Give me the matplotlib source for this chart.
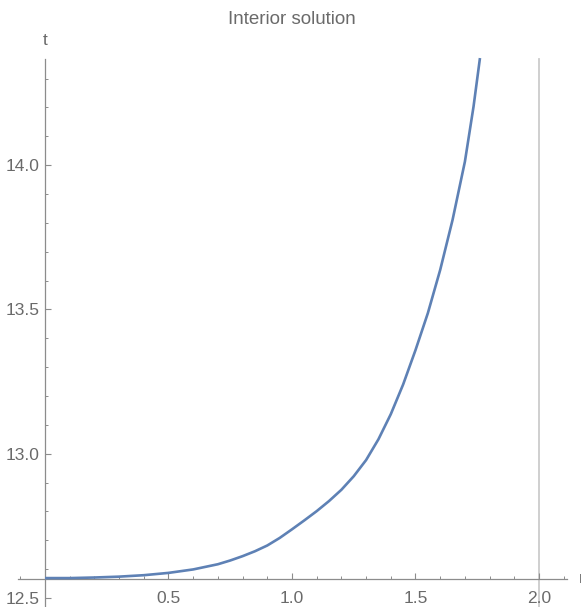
import matplotlib
matplotlib.use('Agg')
import matplotlib.pyplot as plt
import numpy as np
from matplotlib.ticker import FixedLocator, FormatStrFormatter

plt.rcParams['font.family'] = ['Liberation Sans', 'DejaVu Sans']

# curve
x_vals = [0.0, 0.1, 0.2, 0.3, 0.4, 0.5, 0.6, 0.7, 0.75, 0.8, 0.85, 0.9, 0.95,
          1.0, 1.05, 1.1, 1.15, 1.2, 1.25, 1.3, 1.35, 1.4, 1.45, 1.5, 1.55,
          1.6, 1.65, 1.7, 1.735, 1.761]
t_vals = [12.569, 12.569, 12.571, 12.574, 12.579, 12.587, 12.599, 12.617,
          12.630, 12.645, 12.662, 12.682, 12.708, 12.738, 12.769, 12.801,
          12.836, 12.875, 12.922, 12.978, 13.050, 13.137, 13.240, 13.359,
          13.487, 13.637, 13.810, 14.012, 14.203, 14.371]

x_major = [0.5, 1.0, 1.5, 2.0]
y_major = [12.5, 13.0, 13.5, 14.0]
boundary_x = 2.0
title = 'Interior solution'

gray_txt = '#6a6a6a'
gray_axis = '#8c8c8c'
blue = '#5e81b5'

fig = plt.figure(figsize=(5.81, 6.07), dpi=100)
ax = fig.add_axes([0, 0, 1, 1])
ax.patch.set_alpha(0)

# pixel mapping: x 0 -> 45px, 247 px per unit; y 12.5 -> 598px, 288.6 px per unit
ax.set_xlim(-45 / 247, (581 - 45) / 247)
ax.set_ylim(12.5 - 9 / 288.6, 12.5 + 598 / 288.6)

y_top = 14.368
x_axis_y = 12.566

ax.plot([boundary_x, boundary_x], [ax.get_ylim()[0], y_top], color='#cccccc', lw=1.3, zorder=1)
ax.plot(x_vals, t_vals, color=blue, lw=1.9, zorder=3, solid_capstyle='butt',
        solid_joinstyle='round')

for s in ['top', 'right']:
    ax.spines[s].set_visible(False)
ax.spines['left'].set_position(('data', 0))
ax.spines['bottom'].set_position(('data', x_axis_y))
ax.spines['left'].set_bounds(ax.get_ylim()[0], y_top)
ax.spines['bottom'].set_bounds(-0.109, 2.113)
for s in ['left', 'bottom']:
    ax.spines[s].set_color(gray_axis)
    ax.spines[s].set_linewidth(0.9)

x_minor = [v for v in np.round(np.arange(-0.1, 2.11, 0.1), 2) if v not in x_major and v != 0]
y_minor = [v for v in np.round(np.arange(12.6, 14.31, 0.1), 2) if v not in y_major]
ax.xaxis.set_major_locator(FixedLocator(x_major))
ax.xaxis.set_minor_locator(FixedLocator(x_minor))
ax.yaxis.set_major_locator(FixedLocator(y_major))
ax.yaxis.set_minor_locator(FixedLocator(y_minor))
ax.xaxis.set_major_formatter(FormatStrFormatter('%.1f'))
ax.yaxis.set_major_formatter(FormatStrFormatter('%.1f'))

ax.tick_params(axis='both', which='major', direction='in', length=4, width=0.8,
               color=gray_axis, labelcolor=gray_txt, labelsize=12.5)
ax.tick_params(axis='both', which='minor', direction='in', length=2.2, width=0.7, color=gray_axis)
ax.tick_params(axis='x', which='major', pad=9)
ax.tick_params(axis='y', which='major', pad=4)

ax.text(0, 14.433, 't', ha='center', va='center', color=gray_txt, fontsize=12.5)
ax.text(2.162, x_axis_y, 'r', ha='left', va='center', color=gray_txt, fontsize=12.5)

fig.text(292 / 581, 1 - 20 / 607, title, ha='center', va='center', color=gray_txt, fontsize=13.5)

fig.savefig('out.png', dpi=100)
